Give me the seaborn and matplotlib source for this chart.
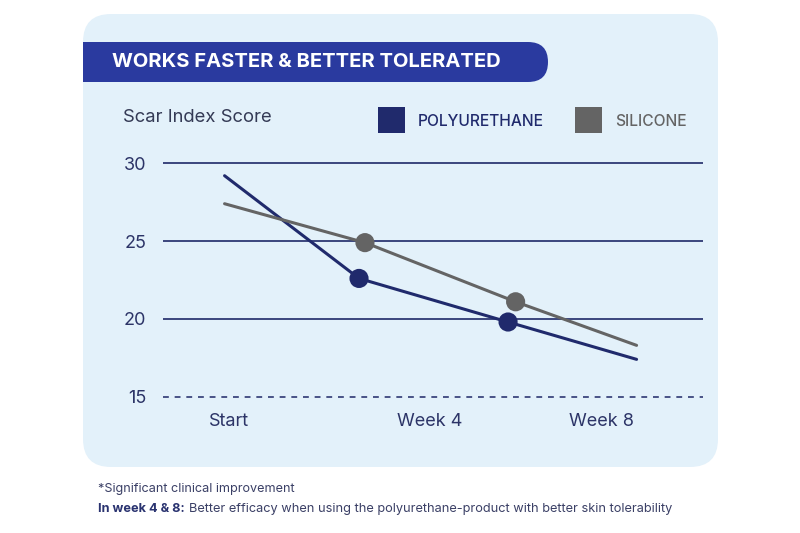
import matplotlib
matplotlib.use("Agg")
import matplotlib.pyplot as plt
from matplotlib.patches import FancyBboxPatch, Rectangle
import seaborn as sns
import pandas as pd

# ---- data ----
series_names = ["POLYURETHANE", "SILICONE"]
poly_x = [1.14, 3.63, 6.39, 8.77]
poly_y = [29.2, 22.6, 19.8, 17.4]
sil_x = [1.14, 3.74, 6.53, 8.77]
sil_y = [27.4, 24.9, 21.1, 18.3]
marked = [False, True, True, False]
tick_pos = [1.22, 4.94, 8.11]
tick_labels = ["Start", "Week 4", "Week 8"]
y_ticks = [15, 20, 25, 30]

NAVY = "#202a6c"
GRAY = "#646464"
PANEL = "#e3f1fa"
BANNER = "#2a3a9f"
TXT = "#2c3467"

df = pd.DataFrame({
    "x": poly_x + sil_x,
    "y": poly_y + sil_y,
    "Product": [series_names[0]] * len(poly_x) + [series_names[1]] * len(sil_x),
    "marked": marked + marked,
})
palette = {series_names[0]: NAVY, series_names[1]: GRAY}

sns.set_theme(style="white")
plt.rcParams["font.family"] = ["Inter", "DejaVu Sans"]

fig = plt.figure(figsize=(8, 5.33), dpi=100, facecolor="white")

# panel background
panel = FancyBboxPatch((0.83, 0.66), 6.35, 4.53,
                       boxstyle="round,pad=0,rounding_size=0.28",
                       transform=fig.dpi_scale_trans, facecolor=PANEL,
                       edgecolor="none", zorder=-10)
fig.patches.append(panel)
# title banner
banner = FancyBboxPatch((0.83, 4.51), 4.65, 0.40,
                        boxstyle="round,pad=0,rounding_size=0.2",
                        transform=fig.dpi_scale_trans, facecolor=BANNER,
                        edgecolor="none", zorder=-9)
fig.patches.append(banner)
fig.patches.append(Rectangle((0.83, 4.51), 0.5, 0.40, transform=fig.dpi_scale_trans,
                             facecolor=BANNER, edgecolor="none", zorder=-9))
fig.text(1.12 / 8, 4.71 / 5.33, "WORKS FASTER & BETTER TOLERATED", color="white",
         fontsize=14.5, fontweight="bold", va="center", ha="left")

ax = fig.add_axes([163 / 800, 0.2338, 540 / 800, 0.4891])
ax.set_zorder(5)
ax.patch.set_alpha(0)

sns.lineplot(data=df, x="x", y="y", hue="Product", palette=palette,
             linewidth=2.2, ax=ax, legend=False, zorder=3)
sns.scatterplot(data=df[df["marked"]], x="x", y="y", hue="Product",
                palette=palette, s=190, edgecolor="none", ax=ax,
                legend=False, zorder=4)

ax.set_xlim(0, 10)
ax.set_ylim(14.25, 31)
ax.set_yticks(y_ticks)
ax.set_xticks(tick_pos)
ax.set_xticklabels(tick_labels)
ax.set_xlabel("")
ax.set_ylabel("")
for s in ax.spines.values():
    s.set_visible(False)
ax.tick_params(axis="both", length=0, labelsize=13, labelcolor=TXT)
ax.tick_params(axis="y", pad=12)
ax.tick_params(axis="x", pad=3)
ax.grid(axis="y", color="#2e3873", linewidth=1.3)
ax.grid(axis="x", visible=False)
gl = ax.get_ygridlines()
gl[0].set_linestyle((0, (3.5, 3.5)))
gl[0].set_linewidth(1.2)
ax.set_axisbelow(True)

# y-axis title
fig.text(123 / 800, 1 - 118 / 533, "Scar Index Score", color="#343a55",
         fontsize=13.3, va="center", ha="left")

# legend
for (x0, name, col, tcol) in [(378, series_names[0], NAVY, NAVY),
                              (575, series_names[1], GRAY, GRAY)]:
    fig.patches.append(Rectangle((x0 / 100, (533 - 133) / 100), 0.27, 0.26,
                                 transform=fig.dpi_scale_trans,
                                 facecolor=col, edgecolor="none"))
    fig.text((x0 + 40) / 800, 1 - 121 / 533, name, color=tcol, fontsize=11.2,
             fontweight="medium", va="center", ha="left")

# footnotes
fig.text(98 / 800, 1 - 489 / 533, "*Significant clinical improvement",
         color="#3b4066", fontsize=9.1, va="center", ha="left")
t1 = fig.text(98 / 800, 1 - 509 / 533, "In week 4 & 8:", color="#2a3370",
              fontsize=9.2, fontweight="bold", va="center", ha="left")
fig.canvas.draw()
bb = t1.get_window_extent()
fig.text((bb.x1 + 4) / 800, 1 - 509 / 533,
         "Better efficacy when using the polyurethane-product with better skin tolerability",
         color="#3b4066", fontsize=9.2, va="center", ha="left")

fig.savefig("out.png", dpi=100, facecolor="white")
